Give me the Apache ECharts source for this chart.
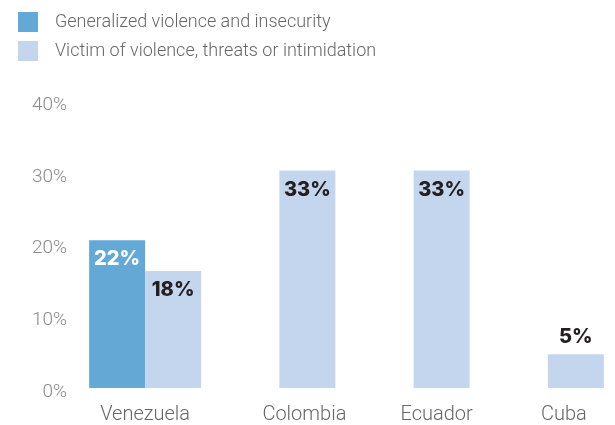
<!DOCTYPE html>
<html>
<head>
<meta charset="utf-8">
<script src="https://cdn.jsdelivr.net/npm/echarts@6/dist/echarts.min.js"></script>
<style>
html,body{margin:0;padding:0;background:#fff;}
#chart{width:615px;height:425px;}
</style>
</head>
<body>
<div id="chart"></div>
<script>
// ---- data ----
var categories = ['Venezuela', 'Colombia', 'Ecuador', 'Cuba'];
var seriesNames = ['Generalized violence and insecurity', 'Victim of violence, threats or intimidation'];
// bar heights
var generalizedValues = [20.6, null, null, null];
var victimValues = [16.3, 30.3, 30.3, 4.7];
// printed value labels
var generalizedLabels = [22, null, null, null];
var victimLabels = [18, 33, 33, 5];
var yTicks = [0, 10, 20, 30, 40];

// ---- styling ----
var darkBlue = '#64a8d6';
var lightBlue = '#c4d6ee';
var labelShift = [0, 25, 23, 16]; // horizontal nudge of category labels

var rich = {};
labelShift.forEach(function (s, i) {
  rich['c' + i] = {
    fontFamily: 'Roboto', fontWeight: 300, fontSize: 20, color: '#666666',
    padding: [0, 0, 0, 2 * s]
  };
});

function buildData(values, labels, insideColor) {
  return values.map(function (v, i) {
    if (v === null) return '-';
    var small = v < 10;
    return {
      value: v,
      label: {
        show: true,
        position: small ? 'top' : 'insideTop',
        distance: small ? 7 : 9,
        color: small ? '#231f20' : insideColor,
        formatter: labels[i] + '%'
      }
    };
  });
}

var labelFont = { fontFamily: 'Inter', fontWeight: 800, fontSize: 20 };

var chart = echarts.init(document.getElementById('chart'), null, { renderer: 'canvas' });
chart.setOption({
  animation: false,
  backgroundColor: '#fff',
  legend: {
    orient: 'vertical',
    left: 18,
    top: 12,
    padding: 0,
    itemWidth: 20,
    itemHeight: 20,
    itemGap: 9,
    icon: 'rect',
    data: seriesNames,
    textStyle: { fontFamily: 'Roboto', fontWeight: 300, fontSize: 18, color: '#666666', padding: [0, 0, 0, 12] }
  },
  grid: { left: 78, top: 101, width: 539, height: 288, containLabel: false },
  xAxis: {
    type: 'category',
    data: categories,
    axisLine: { show: false },
    axisTick: { show: false },
    axisLabel: {
      margin: 17,
      interval: 0,
      formatter: function (v, i) { return '{c' + i + '|' + v + '}'; },
      rich: rich
    }
  },
  yAxis: {
    type: 'value',
    min: yTicks[0],
    max: yTicks[yTicks.length - 1],
    interval: yTicks[1] - yTicks[0],
    axisLine: { show: false },
    axisTick: { show: false },
    splitLine: { show: false },
    axisLabel: {
      margin: 11,
      formatter: '{t|{value}%}',
      rich: {
        t: { fontFamily: 'Roboto', fontWeight: 300, fontSize: 19, color: '#8a8a8a', padding: [8, 0, 0, 0] }
      }
    }
  },
  series: [
    {
      name: seriesNames[0],
      type: 'bar',
      barWidth: 56,
      barGap: '0%',
      itemStyle: { color: darkBlue },
      label: labelFont,
      data: buildData(generalizedValues, generalizedLabels, '#ffffff')
    },
    {
      name: seriesNames[1],
      type: 'bar',
      barWidth: 56,
      barGap: '0%',
      itemStyle: { color: lightBlue },
      label: labelFont,
      data: buildData(victimValues, victimLabels, '#231f20')
    }
  ]
});
</script>
</body>
</html>
